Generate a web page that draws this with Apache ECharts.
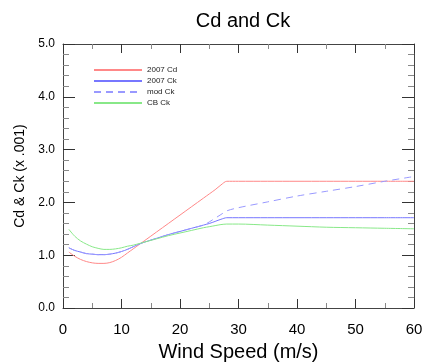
<!DOCTYPE html>
<html>
<head>
<meta charset="utf-8">
<script src="https://cdn.jsdelivr.net/npm/echarts@6/dist/echarts.min.js"></script>
<style>
html,body{margin:0;padding:0;background:#fff;}
#c{width:425px;height:364px;}
</style>
</head>
<body>
<div id="c"></div>
<script>
// Wind speed (m/s)
var windSpeed = [1,2,3,4,5,6,7,8,9,10,11,12,13,14,16,18,20,22,24,25,26,27,28,30,35,40,45,50,55,60];
// Coefficients (x .001)
var cd2007 = [1.06,0.98,0.92,0.88,0.855,0.845,0.845,0.86,0.90,0.96,1.04,1.12,1.20,1.28,1.44,1.60,1.76,1.92,2.08,2.16,2.24,2.33,2.40,2.40,2.40,2.40,2.40,2.40,2.40,2.40];
var ck2007 = [1.14,1.09,1.06,1.03,1.02,1.01,1.01,1.02,1.04,1.07,1.11,1.16,1.21,1.25,1.32,1.39,1.45,1.51,1.57,1.60,1.64,1.68,1.71,1.71,1.71,1.71,1.71,1.71,1.71,1.71];
var modCk  = [1.14,1.09,1.06,1.03,1.02,1.01,1.01,1.02,1.04,1.07,1.11,1.16,1.21,1.25,1.32,1.39,1.45,1.51,1.57,1.63,1.70,1.77,1.84,1.90,2.01,2.12,2.21,2.30,2.40,2.49];
var cbCk   = [1.49,1.36,1.27,1.21,1.16,1.13,1.11,1.11,1.12,1.14,1.17,1.19,1.22,1.25,1.31,1.37,1.42,1.47,1.52,1.54,1.56,1.58,1.59,1.59,1.57,1.55,1.53,1.52,1.51,1.50];
var seriesNames = ['2007 Cd','2007 Ck','mod Ck','CB Ck'];
var xTicks = {min:0, max:60, interval:10};
var yTicks = {min:0, max:5, interval:1};

var FONT = 'Liberation Sans, Arial, Helvetica, sans-serif';
function pairs(ys){ return windSpeed.map(function(x,i){ return [x, ys[i]]; }); }

function xAx(pos, labels){
  return {
    type:'value', position:pos, min:xTicks.min, max:xTicks.max, interval:xTicks.interval,
    axisLine:{show:true, onZero:(pos==='bottom'), lineStyle:{color:'#444', width:1}},
    axisTick:{show:true, inside:true, length:9, lineStyle:{color:'#333', width:1}},
    minorTick:{show:true, splitNumber:2, length:5, lineStyle:{color:'#888', width:1}},
    splitLine:{show:false}, minorSplitLine:{show:false},
    axisLabel:{show:labels, fontSize:15, color:'#000', margin:14, fontFamily:FONT},
    name: labels ? 'Wind Speed (m/s)' : '', nameLocation:'middle', nameGap:34,
    nameTextStyle:{fontSize:20, color:'#000', fontFamily:FONT}
  };
}
function yAx(pos, labels){
  return {
    type:'value', position:pos, min:yTicks.min, max:yTicks.max, interval:yTicks.interval,
    axisLine:{show:true, onZero:(pos==='left'), lineStyle:{color:'#444', width:1}},
    axisTick:{show:true, inside:true, length:12, lineStyle:{color:'#333', width:1}},
    minorTick:{show:true, splitNumber:5, length:6, lineStyle:{color:'#888', width:1}},
    splitLine:{show:false}, minorSplitLine:{show:false},
    axisLabel:{show:labels, fontSize:12, color:'#000', margin:8, fontFamily:FONT,
      formatter:function(v){return v.toFixed(1);}},
    name: labels ? 'Cd & Ck (x .001)' : '', nameLocation:'middle', nameGap:28,
    nameTextStyle:{fontSize:14, color:'#000', fontFamily:FONT}
  };
}

var colors = ['#ff8888','#7777ff','#9999ff','#88e888'];
var dataSets = [cd2007, ck2007, modCk, cbCk];

var chart = echarts.init(document.getElementById('c'));
chart.setOption({
  animation:false,
  title:{text:'Cd and Ck', left:238, top:6, textAlign:'center',
    textStyle:{fontSize:20, fontWeight:'normal', color:'#000', fontFamily:FONT}},
  grid:{left:63, right:11, top:44, bottom:56, outerBoundsMode:'none'},
  xAxis:[xAx('bottom', true), xAx('top', false)],
  yAxis:[yAx('left', true), yAx('right', false)],
  legend:{data:seriesNames, orient:'vertical', left:88, top:61,
    itemWidth:48, itemHeight:10, itemGap:3, itemStyle:{opacity:0},
    textStyle:{fontSize:8, color:'#222'}},
  series: seriesNames.map(function(n,i){
    return {
      name:n, type:'line', data:pairs(dataSets[i]), symbol:'none', smooth:0.3,
      lineStyle:{color:colors[i], width:1, type: n==='mod Ck' ? [7,5] : 'solid'}
    };
  })
});
</script>
</body>
</html>
